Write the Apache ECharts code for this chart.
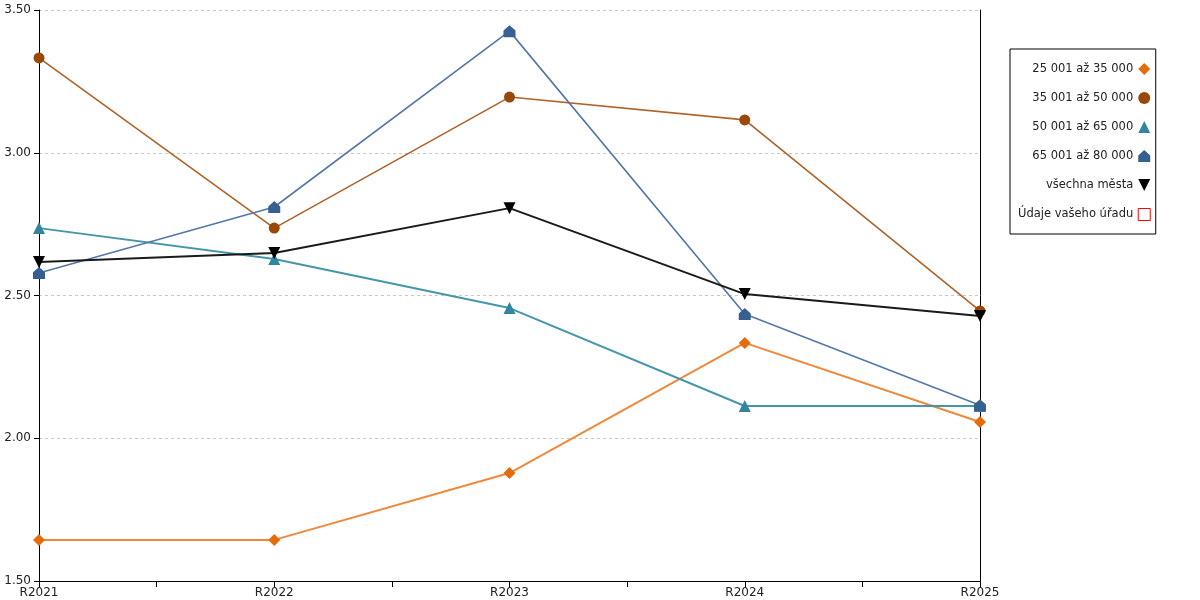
<!DOCTYPE html>
<html>
<head>
<meta charset="utf-8">
<script src="https://cdn.jsdelivr.net/npm/echarts@6/dist/echarts.min.js"></script>
<style>
  html, body { margin: 0; padding: 0; background: #fff; }
  #chart { width: 1200px; height: 600px; }
</style>
</head>
<body>
<div id="chart"></div>
<script>
// kategorie (roky)
var categories = ['R2021', 'R2022', 'R2023', 'R2024', 'R2025'];
// hodnoty jednotlivych skupin
var s25to35 = [1.644, 1.644, 1.878, 2.334, 2.057];
var s35to50 = [3.332, 2.736, 3.195, 3.115, 2.446];
var s50to65 = [2.736, 2.628, 2.456, 2.113, 2.113];
var s65to80 = [2.579, 2.810, 3.426, 2.435, 2.116];
var allCities = [2.617, 2.649, 2.806, 2.505, 2.428];
var yourOffice = [];

var seriesNames = ['25 001 až 35 000', '35 001 až 50 000', '50 001 až 65 000', '65 001 až 80 000', 'všechna města', 'Údaje vašeho úřadu'];

var houseSymbol = 'path://M0,-1 L1,-0.1 L1,1 L-1,1 L-1,-0.1 Z';
var downTriangle = 'path://M-1,-1 L1,-1 L0,1 Z';

// z indexu kategorie udelat bod [x, y]
function toPoints(arr) {
    return arr.map(function (v, i) { return [i, v]; });
}

function lineSeries(name, data, lineColor, markColor, symbol, size, width) {
    return {
        name: name,
        type: 'line',
        data: toPoints(data),
        symbol: symbol,
        symbolSize: size,
        showAllSymbol: true,
        lineStyle: { color: lineColor, width: width },
        itemStyle: { color: markColor },
        emphasis: { disabled: true },
        z: 3
    };
}

var myChart = echarts.init(document.getElementById('chart'));
var option = {
    animation: false,
    textStyle: { fontFamily: 'DejaVu Sans' },
    grid: { left: 39, right: 220, top: 10, bottom: 19, containLabel: false },
    legend: {
        orient: 'vertical',
        left: 1010,
        top: 49,
        align: 'right',
        padding: [14, 5, 13, 8],
        itemGap: 17,
        itemWidth: 12,
        itemHeight: 12,
        backgroundColor: '#fff',
        borderColor: '#000',
        borderWidth: 1,
        textStyle: { fontSize: 11.5, color: '#222', fontFamily: 'DejaVu Sans' },
        data: [
            { name: seriesNames[0], icon: 'diamond' },
            { name: seriesNames[1], icon: 'circle' },
            { name: seriesNames[2], icon: 'triangle' },
            { name: seriesNames[3], icon: houseSymbol },
            { name: seriesNames[4], icon: downTriangle },
            { name: seriesNames[5], icon: 'rect', itemStyle: { color: '#fff', borderColor: '#ff0000', borderWidth: 1 } }
        ]
    },
    xAxis: {
        type: 'value',
        min: 0,
        max: 4,
        interval: 0.5,
        axisLine: { show: true, lineStyle: { color: '#000', width: 1 } },
        axisTick: { show: true, length: 6, lineStyle: { color: '#000' } },
        splitLine: { show: false },
        axisLabel: {
            color: '#222',
            fontSize: 12,
            margin: 6,
            formatter: function (v) {
                return (v % 1 === 0) ? categories[v] : '';
            }
        }
    },
    yAxis: [{
        type: 'value',
        min: 1.5,
        max: 3.5,
        interval: 0.5,
        axisLine: { show: true, lineStyle: { color: '#000', width: 1 } },
        axisTick: { show: true, length: 5, lineStyle: { color: '#000' } },
        axisLabel: {
            color: '#222',
            fontSize: 12,
            margin: 8,
            formatter: function (v) { return v.toFixed(2); }
        },
        splitLine: { show: true, lineStyle: { color: '#c8c8c8', type: [3, 3], width: 1 } }
    }, {
        type: 'value',
        position: 'right',
        min: 1.5,
        max: 3.5,
        interval: 0.5,
        axisLine: { show: true, lineStyle: { color: '#000', width: 1 } },
        axisTick: { show: false },
        axisLabel: { show: false },
        splitLine: { show: false }
    }],
    series: [
        lineSeries(seriesNames[0], s25to35, '#f0883a', '#e46c0a', 'diamond', 12, 2),
        lineSeries(seriesNames[1], s35to50, '#b0622a', '#984807', 'circle', 11, 1.6),
        lineSeries(seriesNames[2], s50to65, '#4596aa', '#31859c', 'triangle', 12, 2),
        lineSeries(seriesNames[3], s65to80, '#5477a8', '#376092', houseSymbol, 12, 1.6),
        lineSeries(seriesNames[4], allCities, '#1a1a1a', '#000', downTriangle, 12, 2),
        { name: seriesNames[5], type: 'line', data: toPoints(yourOffice), symbol: 'rect',
          itemStyle: { color: '#fff', borderColor: '#ff0000' } }
    ]
};
myChart.setOption(option, true);
</script>
</body>
</html>
